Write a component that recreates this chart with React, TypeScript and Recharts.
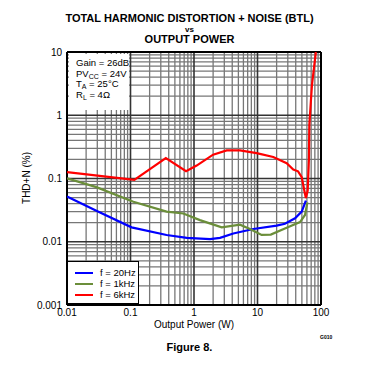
import { LineChart, Line, XAxis, YAxis, ReferenceLine, Legend } from "recharts";

// THD+N vs output power
const p20Hz = [0.01, 0.029, 0.104, 0.37, 0.77, 1.79, 2.57, 4.16, 8.6, 20, 27, 39, 49.7, 57.8];
const thd20Hz = [0.052, 0.031, 0.0169, 0.0128, 0.0115, 0.011, 0.0115, 0.0135, 0.0159, 0.018, 0.0192, 0.0235, 0.03, 0.0448];

const p1kHz = [0.01, 0.029, 0.111, 0.37, 0.68, 1.24, 2.73, 5.3, 7.6, 11.6, 16.2, 30, 46.7, 56, 61];
const thd1kHz = [0.101, 0.073, 0.043, 0.03, 0.028, 0.022, 0.0169, 0.0186, 0.0159, 0.0128, 0.013, 0.017, 0.0205, 0.0265, 0.042];

const p6kHz = [0.01, 0.115, 0.36, 0.75, 1.1, 2.0, 3.27, 5.3, 9.7, 17.7, 28.8, 36.6, 43.5, 49.7, 54.6, 57.8, 61.7, 64.5, 65.5, 72, 83];
const thd6kHz = [0.126, 0.095, 0.21, 0.13, 0.16, 0.238, 0.278, 0.278, 0.252, 0.219, 0.175, 0.139, 0.13, 0.105, 0.0645, 0.049, 0.0645, 0.2, 0.7, 3, 10];

const xTicks = [0.01, 0.1, 1, 10, 100];
const yTicks = [0.001, 0.01, 0.1, 1, 10];
const minorSteps = [2, 3, 4, 5, 6, 7, 8, 9];

const series = [
  { name: "f = 20Hz", color: "#0000ff", p: p20Hz, thd: thd20Hz },
  { name: "f = 1kHz", color: "#6b8e3a", p: p1kHz, thd: thd1kHz },
  { name: "f = 6kHz", color: "#ff0000", p: p6kHz, thd: thd6kHz },
];

const FONT = '"Liberation Sans", Arial, sans-serif';

const minorX = xTicks.slice(0, -1).flatMap((d) => minorSteps.map((k) => d * k));
const minorY = yTicks.slice(0, -1).flatMap((d) => minorSteps.map((k) => d * k));

function LegendBox() {
  return (
    <div
      style={{
        width: 72,
        height: 43,
        border: "1px solid #000",
        background: "#fff",
        fontFamily: FONT,
        fontSize: 9.5,
        paddingTop: 5,
        boxSizing: "border-box",
      }}
    >
      {series.map((s) => (
        <div key={s.name} style={{ display: "flex", alignItems: "center", height: 11 }}>
          <span style={{ display: "inline-block", marginLeft: 7, width: 18, height: 2, background: s.color }} />
          <span style={{ marginLeft: 7, whiteSpace: "nowrap" }}>{s.name}</span>
        </div>
      ))}
    </div>
  );
}

const sub = { fontSize: 7, verticalAlign: -2, lineHeight: 0 };

export default function App() {
  return (
    <div
      style={{
        position: "absolute",
        left: 0,
        top: 0,
        width: 379,
        height: 370,
        background: "#fff",
        fontFamily: FONT,
        color: "#000",
      }}
    >
      <div style={{ position: "absolute", top: 13, width: 379, textAlign: "center", fontWeight: "bold", fontSize: 11, lineHeight: "11px" }}>
        TOTAL HARMONIC DISTORTION + NOISE (BTL)
      </div>
      <div style={{ position: "absolute", top: 25.5, width: 379, textAlign: "center", fontWeight: "bold", fontSize: 8, lineHeight: "8px" }}>
        vs
      </div>
      <div style={{ position: "absolute", top: 34, width: 379, textAlign: "center", fontWeight: "bold", fontSize: 11, lineHeight: "11px" }}>
        OUTPUT POWER
      </div>

      <LineChart width={379} height={370} margin={{ top: 52, right: 58, left: 0, bottom: 0 }}>
        <XAxis
          dataKey="p"
          type="number"
          scale="log"
          domain={[0.01, 100]}
          ticks={xTicks}
          allowDataOverflow
          height={65}
          tickLine={false}
          axisLine={false}
          tickSize={3}
          tickMargin={1}
          tick={{ fill: "#000", fontSize: 10, fontFamily: FONT }}
          tickFormatter={(v: number) => String(v)}
        />
        <YAxis
          dataKey="thd"
          type="number"
          scale="log"
          domain={[0.001, 10]}
          ticks={yTicks}
          allowDataOverflow
          width={67}
          tickLine={false}
          axisLine={false}
          tickSize={4}
          tickMargin={1}
          tick={{ fill: "#000", fontSize: 10, fontFamily: FONT }}
          tickFormatter={(v: number) => String(v)}
        />
        {minorX.map((v) => (
          <ReferenceLine key={"mx" + v} x={v} stroke="#777" strokeWidth={1.3} ifOverflow="hidden" />
        ))}
        {minorY.map((v) => (
          <ReferenceLine key={"my" + v} y={v} stroke="#777" strokeWidth={1.3} ifOverflow="hidden" />
        ))}
        {xTicks.slice(1, -1).map((v) => (
          <ReferenceLine key={"Mx" + v} x={v} stroke="#333" strokeWidth={1.6} />
        ))}
        {yTicks.slice(1, -1).map((v) => (
          <ReferenceLine key={"My" + v} y={v} stroke="#333" strokeWidth={1.6} />
        ))}
        <ReferenceLine x={0.01} stroke="#000" strokeWidth={2} />
        <ReferenceLine x={100} stroke="#000" strokeWidth={2} />
        <ReferenceLine y={0.001} stroke="#000" strokeWidth={2} />
        <ReferenceLine y={10} stroke="#000" strokeWidth={2} />
        {series.map((s) => (
          <Line
            key={s.name}
            name={s.name}
            data={s.p.map((p, i) => ({ p, thd: s.thd[i] }))}
            dataKey="thd"
            type="linear"
            stroke={s.color}
            strokeWidth={2.2}
            dot={false}
            isAnimationActive={false}
          />
        ))}
        <Legend
          layout="vertical"
          align="center"
          verticalAlign="middle"
          content={() => <LegendBox />}
          wrapperStyle={{ left: 67, top: 261, width: 72, height: 43 }}
        />
      </LineChart>

      {/* condition box, covers the grid in the top-left corner */}
      <div
        style={{
          position: "absolute",
          left: 69,
          top: 54,
          width: 60,
          height: 56,
          background: "#fff",
          fontSize: 9.5,
          lineHeight: "10.5px",
          paddingLeft: 7,
          paddingTop: 4,
          boxSizing: "border-box",
          whiteSpace: "nowrap",
        }}
      >
        <div>Gain = 26dB</div>
        <div>
          PV<sub style={sub}>CC</sub> = 24V
        </div>
        <div>
          T<sub style={sub}>A</sub> = 25°C
        </div>
        <div>
          R<sub style={sub}>L</sub> = 4Ω
        </div>
      </div>

      <div style={{ position: "absolute", top: 319, left: 67, width: 254, textAlign: "center", fontSize: 10 }}>
        Output Power (W)
      </div>
      <div
        style={{
          position: "absolute",
          left: 26,
          top: 178,
          fontSize: 10,
          whiteSpace: "nowrap",
          transform: "translate(-50%, -50%) rotate(-90deg)",
        }}
      >
        THD+N (%)
      </div>
      <div style={{ position: "absolute", left: 320, top: 334, fontSize: 5, fontWeight: "bold" }}>G010</div>
      <div style={{ position: "absolute", top: 341, width: 379, textAlign: "center", fontSize: 11, fontWeight: "bold" }}>
        Figure 8.
      </div>
    </div>
  );
}
